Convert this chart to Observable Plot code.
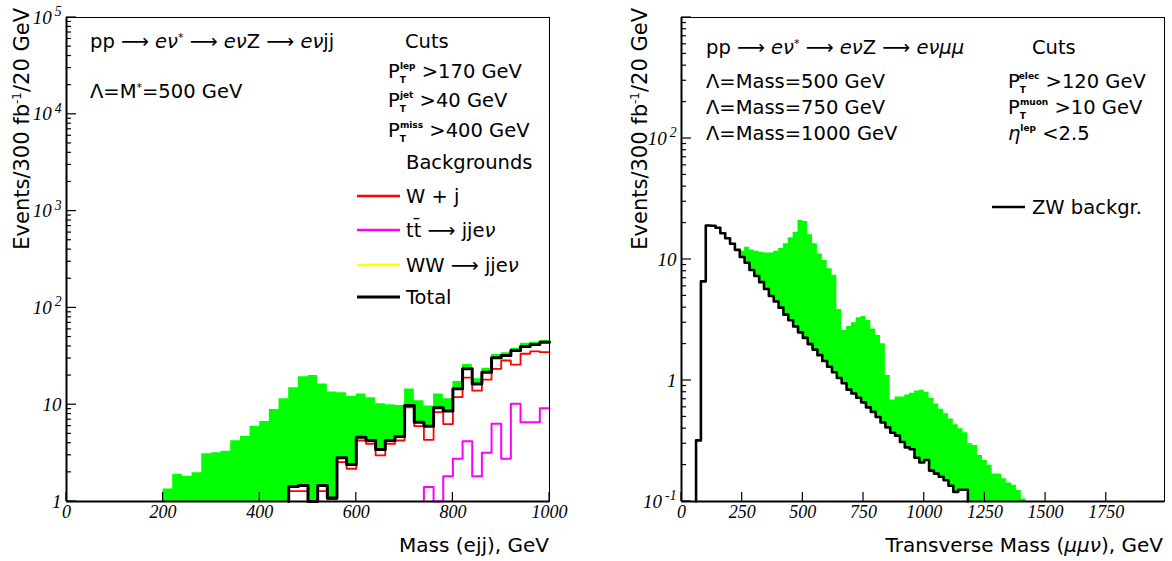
<!DOCTYPE html>
<html><head><meta charset="utf-8">
<script src="https://cdn.jsdelivr.net/npm/d3@7"></script>
<script src="https://cdn.jsdelivr.net/npm/@observablehq/plot@0.6"></script>
<style>
body{margin:0;background:#fff}
#wrap{display:flex;width:1172px;height:561px;overflow:hidden}
svg{display:block}
</style>
</head><body><div id="wrap"></div>
<script>
// ---------------- DATA ----------------
const binWidth = 20;

// Left panel: Mass (ejj), bins of 20 GeV from 200 to 1000
const leftStart = 200;
const leftSignalPlusBkg = [1.35,1.91,1.82,1.98,3.12,3.18,3.3,4.25,4.69,6.0,6.7,8.9,11.5,15.0,19.4,20.0,16.4,13.5,13.3,12.2,12.9,11.8,10.2,10.0,9.8,14.5,11.0,9.7,12.9,11.5,17.4,26.0,18.5,23.8,33.0,34.4,38.4,43.2,44.2,46.0];
const leftTotalBkg = [0,0,0,0,0,0,0,0,0,0,0,0,0,1.43,1.46,0,1.46,1.09,2.83,2.41,4.6,4.27,3.44,4.27,4.69,9.8,6.6,6.0,9.3,8.6,14.6,23.5,16.4,21.7,30.5,32.2,36.3,39.9,41.9,44.2];
const leftWj = [0,0,0,0,0,0,0,0,0,0,0,0,0,1.28,1.28,0,1.28,1.05,2.55,2.18,4.27,3.95,2.99,3.95,4.27,9.4,6.0,4.34,8.4,6.3,12.0,19.0,14.0,18.2,23.5,28.6,26.0,33.6,35.5,34.9];
const leftTtbar = [0,0,0,0,0,0,0,0,0,0,0,0,0,0,0,0,0,0,0,0,0,0,0,0,0,0,0,1.41,0,1.82,2.76,4.2,1.82,3.19,6.35,2.76,10.2,6.6,6.6,9.2];
const leftXTicks = [0,200,400,600,800,1000];
const leftYTicks = [1,10,100,1000,10000,100000];
const leftLegend = [
  {label:"W + j", color:"#ff0000"},
  {label:"tt̄ ⟶ jje", color:"#ff00ff"},
  {label:"WW ⟶ jje", color:"#ffff00"},
  {label:"Total", color:"#000000"}
];

// Right panel: Transverse mass (mu mu nu), bins of 20 GeV
const rightBkgStart = 60;
const rightZWBkg = [0.32,6.6,19.1,19.0,18.3,16.5,15.0,13.5,12.0,10.5,9.4,8.2,7.3,6.5,5.7,5.0,4.5,4.0,3.5,3.15,2.8,2.5,2.25,2.0,1.8,1.62,1.45,1.3,1.17,1.05,0.95,0.84,0.78,0.72,0.66,0.6,0.55,0.5,0.45,0.41,0.37,0.35,0.31,0.28,0.27,0.23,0.21,0.22,0.18,0.17,0.16,0.15,0.135,0.12,0.125,0.125];
const rightSigStart = 240;
const rightSignalPlusBkg = [11.7,12.6,12.0,11.7,11.5,11.3,11.3,11.7,12.3,13.5,15.1,16.8,21.0,20.6,16.0,13.5,11.1,9.8,8.4,7.4,3.86,2.59,2.8,3.0,3.3,3.38,3.13,2.67,2.35,2.01,1.10,0.69,0.73,0.73,0.76,0.785,0.82,0.83,0.80,0.71,0.64,0.58,0.53,0.48,0.43,0.40,0.37,0.30,0.29,0.24,0.218,0.199,0.169,0.169,0.154,0.142,0.136,0.123,0.105];
const rightXTicks = [0,250,500,750,1000,1250,1500,1750];
const rightYTicks = [0.1,1,10,100];

// ---------------- HELPERS ----------------
const SANS = "DejaVu Sans";
const SERIF = "Liberation Serif";
const ANN = 19.5;

function stepPoints(start, vals, floor, dropEnd) {
  const i0 = vals.findIndex(v => v > 0);
  const pts = [{x: start + i0 * binWidth, y: floor}];
  for (let i = i0; i < vals.length; i++) pts.push({x: start + i * binWidth, y: Math.max(vals[i], floor)});
  const n = vals.length;
  pts.push({x: start + n * binWidth, y: Math.max(vals[n - 1], floor)});
  if (dropEnd) pts.push({x: start + n * binWidth, y: floor});
  return pts;
}
function areaPoints(start, top, bStart, bottom, floor) {
  const pts = [];
  for (let i = 0; i < top.length; i++) {
    const x = start + i * binWidth;
    const j = Math.round((x - bStart) / binWidth);
    const b = (j >= 0 && j < bottom.length) ? bottom[j] : 0;
    pts.push({x, y1: Math.max(b, floor), y2: Math.max(top[i], floor)});
  }
  const last = pts[pts.length - 1];
  pts.push({x: start + top.length * binWidth, y1: last.y1, y2: last.y2});
  return pts;
}
function yFmt(d) {
  const e = Math.round(Math.log10(d));
  if (e === 0) return "1";
  if (e === 1) return "10";
  return "10^" + e;
}
function rich(sel, x, y, segs, size) {
  const t = sel.append("text").attr("x", x).attr("y", y).attr("text-anchor", "start")
    .attr("font-family", SANS).attr("font-size", size || ANN).attr("fill", "black");
  let shift = 0;
  for (const s of segs) {
    const sp = t.append("tspan").text(s.t);
    const target = s.dy || 0;
    sp.attr("dy", target - shift); shift = target;
    if (s.i) sp.attr("font-style", "italic");
    if (s.size) sp.attr("font-size", s.size);
    if (s.dx) sp.attr("dx", s.dx);
    if (s.w) sp.attr("font-weight", s.w);
  }
  return t;
}
function PT(sup, rest) {
  return [{t:"P"},{t:"T",dy:5,size:9,w:"bold"},{t:sup,dy:-9,dx:-6,size:9,w:"bold"},{t:rest,dy:0}];
}
function decorate(plot, cfg) {
  const svg = d3.select(plot);
  const xs = plot.scale("x"), ys = plot.scale("y");
  svg.selectAll('g[aria-label="y-axis tick label"] text').each(function () {
    const m = this.textContent.match(/^10\^(.+)$/);
    if (m) {
      this.textContent = "";
      d3.select(this).append("tspan").text("10");
      d3.select(this).append("tspan").attr("dy", "-0.55em").attr("font-size", "0.72em").attr("dx", "3").text(m[1]);
    }
  });
  const g = svg.append("g").attr("stroke", "black").attr("stroke-width", 1.2);
  const x0 = xs.apply(cfg.xDomain[0]);
  const y0 = ys.apply(cfg.yDomain[0]);
  const [lo, hi] = cfg.yDomain.map(v => Math.round(Math.log10(v)));
  for (let e = lo; e <= hi; e++) {
    const dec = Math.pow(10, e);
    g.append("line").attr("x1", x0).attr("x2", x0 + 10).attr("y1", ys.apply(dec)).attr("y2", ys.apply(dec));
    if (e < hi) for (let k = 2; k <= 9; k++) {
      const yy = ys.apply(k * dec);
      g.append("line").attr("x1", x0).attr("x2", x0 + 5).attr("y1", yy).attr("y2", yy);
    }
  }
  for (const t of cfg.xTicks) {
    const xx = xs.apply(t);
    g.append("line").attr("x1", xx).attr("x2", xx).attr("y1", y0).attr("y2", y0 - 9);
  }
  const yt = svg.append("text").attr("transform", `translate(${cfg.yTitleX},8) rotate(-90)`)
    .attr("text-anchor", "end").attr("font-family", SANS).attr("font-size", 21).attr("fill", "black");
  yt.append("tspan").text("Events/300 fb");
  yt.append("tspan").attr("dy", -8).attr("font-size", 12).text("-1");
  yt.append("tspan").attr("dy", 8).text("/20 GeV");
  return svg;
}
const xFmt = d => String(d);
const wrap = document.getElementById("wrap");

// ---------------- LEFT PANEL ----------------
{
  const floor = 1;
  const cfg = {xDomain:[0,1000], yDomain:[1,1e5], xTicks:leftXTicks, yTitleX:29};
  const plot = Plot.plot({
    width: 586, height: 561,
    marginLeft: 66, marginRight: 37, marginTop: 17, marginBottom: 60,
    x: {domain: cfg.xDomain},
    y: {type: "log", domain: cfg.yDomain},
    style: {background: "white"},
    marks: [
      Plot.areaY(areaPoints(leftStart, leftSignalPlusBkg, leftStart, leftTotalBkg, floor), {x: "x", y1: "y1", y2: "y2", curve: "step-after", fill: "#00ff00"}),
      Plot.line(stepPoints(leftStart, leftWj, floor), {x: "x", y: "y", curve: "step-after", stroke: "#ff0000", strokeWidth: 1.8}),
      Plot.line(stepPoints(leftStart, leftTtbar, floor), {x: "x", y: "y", curve: "step-after", stroke: "#ff00ff", strokeWidth: 2}),
      Plot.line(stepPoints(leftStart, leftTotalBkg, floor), {x: "x", y: "y", curve: "step-after", stroke: "#000000", strokeWidth: 3}),
      Plot.frame({stroke: "black", strokeWidth: 1}),
      Plot.ruleX([0], {stroke: "black", strokeWidth: 2}),
      Plot.ruleY([floor], {stroke: "black", strokeWidth: 2}),
      Plot.axisX({ticks: leftXTicks, tickFormat: xFmt, tickSize: 0, tickPadding: 4, fontSize: 18, fontFamily: SERIF, fontStyle: "italic", label: null}),
      Plot.axisY({ticks: leftYTicks, tickFormat: yFmt, tickSize: 0, tickPadding: 5, fontSize: 19, fontFamily: SERIF, fontStyle: "italic", label: null})
    ]
  });
  const svg = decorate(plot, cfg);
  svg.append("text").attr("x", 549).attr("y", 552).attr("text-anchor", "end")
    .attr("font-family", SANS).attr("font-size", 20).attr("fill", "black").text("Mass (ejj), GeV");
  rich(svg, 90, 48, [{t:"pp ⟶ "},{t:"eν",i:1},{t:"*",dy:-7,size:11},{t:" ⟶ ",dy:0},{t:"eν",i:1},{t:"Z ⟶ "},{t:"eν",i:1},{t:"jj"}]);
  rich(svg, 90, 98, [{t:"Λ=M"},{t:"*",dy:-7,size:11},{t:"=500 GeV",dy:0}]);
  rich(svg, 405, 48, [{t:"Cuts"}]);
  rich(svg, 388, 78, PT("lep", " >170 GeV"));
  rich(svg, 388, 107, PT("jet", " >40 GeV"));
  rich(svg, 388, 137, PT("miss", " >400 GeV"));
  rich(svg, 406, 169, [{t:"Backgrounds"}]);
  const ly = [196, 230, 265, 297];
  leftLegend.forEach((d, i) => {
    svg.append("line").attr("x1", 357).attr("x2", 400).attr("y1", ly[i]).attr("y2", ly[i])
      .attr("stroke", d.color).attr("stroke-width", d.color === "#000000" ? 3 : 2.5);
    const segs = d.label.endsWith("jje") ? [{t:d.label},{t:"ν",i:1}] : [{t:d.label}];
    rich(svg, 406, ly[i] + 7, segs);
  });
  wrap.appendChild(plot);
}

// ---------------- RIGHT PANEL ----------------
{
  const floor = 0.1;
  const cfg = {xDomain:[0,1990], yDomain:[0.1,1000], xTicks:rightXTicks, yTitleX:61};
  const plot = Plot.plot({
    width: 586, height: 561,
    marginLeft: 95, marginRight: 8, marginTop: 17, marginBottom: 60,
    x: {domain: cfg.xDomain},
    y: {type: "log", domain: cfg.yDomain},
    style: {background: "white"},
    marks: [
      Plot.areaY(areaPoints(rightSigStart, rightSignalPlusBkg, rightBkgStart, rightZWBkg, floor), {x: "x", y1: "y1", y2: "y2", curve: "step-after", fill: "#00ff00"}),
      Plot.line(stepPoints(rightBkgStart, rightZWBkg, floor, true), {x: "x", y: "y", curve: "step-after", stroke: "#000000", strokeWidth: 2.6}),
      Plot.frame({stroke: "black", strokeWidth: 1}),
      Plot.ruleX([0], {stroke: "black", strokeWidth: 2}),
      Plot.ruleY([floor], {stroke: "black", strokeWidth: 2}),
      Plot.axisX({ticks: rightXTicks, tickFormat: xFmt, tickSize: 0, tickPadding: 4, fontSize: 18, fontFamily: SERIF, fontStyle: "italic", label: null}),
      Plot.axisY({ticks: rightYTicks, tickFormat: yFmt, tickSize: 0, tickPadding: 5, fontSize: 19, fontFamily: SERIF, fontStyle: "italic", label: null})
    ]
  });
  const svg = decorate(plot, cfg);
  const xt = svg.append("text").attr("x", 577).attr("y", 552).attr("text-anchor", "end")
    .attr("font-family", SANS).attr("font-size", 20).attr("fill", "black");
  xt.append("tspan").text("Transverse Mass (");
  xt.append("tspan").attr("font-style", "italic").text("μμν");
  xt.append("tspan").text("), GeV");
  rich(svg, 120, 54, [{t:"pp ⟶ "},{t:"eν",i:1},{t:"*",dy:-7,size:11},{t:" ⟶ ",dy:0},{t:"eν",i:1},{t:"Z ⟶ "},{t:"eνμμ",i:1}]);
  rich(svg, 120, 88, [{t:"Λ=Mass=500 GeV"}]);
  rich(svg, 120, 114, [{t:"Λ=Mass=750 GeV"}]);
  rich(svg, 120, 140, [{t:"Λ=Mass=1000 GeV"}]);
  rich(svg, 446, 54, [{t:"Cuts"}]);
  rich(svg, 422, 88, PT("elec", " >120 GeV"));
  rich(svg, 422, 114, PT("muon", " >10 GeV"));
  rich(svg, 422, 140, [{t:"η",i:1},{t:"lep",dy:-9,size:9,w:"bold"},{t:" <2.5",dy:0}]);
  svg.append("line").attr("x1", 406).attr("x2", 439).attr("y1", 207).attr("y2", 207).attr("stroke", "black").attr("stroke-width", 2.5);
  rich(svg, 446, 214, [{t:"ZW backgr."}]);
  wrap.appendChild(plot);
}
</script>
</body></html>
